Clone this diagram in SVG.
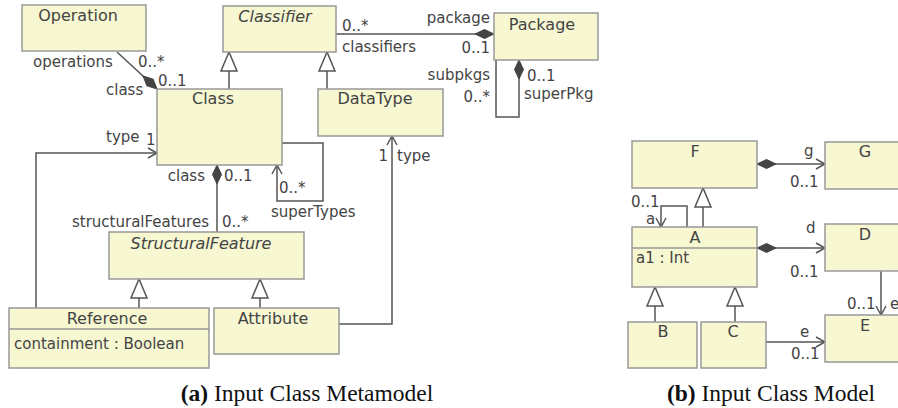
<svg xmlns="http://www.w3.org/2000/svg" width="898" height="408" viewBox="0 0 898 408">
<style>
.box{fill:#f7f7d2;stroke:#999;stroke-width:1.5}
.div{stroke:#999;stroke-width:1.5}
.n{font-family:"DejaVu Sans",sans-serif;font-size:16px;fill:#444;text-anchor:middle}
.it{font-style:italic}
.l{font-family:"DejaVu Sans",sans-serif;font-size:15px;fill:#444}
.r{text-anchor:end}
.c{fill:none;stroke:#555;stroke-width:1.5}
.cap{font-family:"Liberation Serif",serif;font-size:23.5px;fill:#111;text-anchor:middle}
</style>
<defs>
<marker id="open" markerUnits="userSpaceOnUse" markerWidth="12" markerHeight="12" viewBox="-11 -6 12 12" refX="0" refY="0" orient="auto" overflow="visible">
<path d="M-9,-5 L0,0 L-9,5" fill="none" stroke="#555" stroke-width="1.5"/>
</marker>
<marker id="dia" markerUnits="userSpaceOnUse" markerWidth="20" markerHeight="12" viewBox="-19 -6 20 12" refX="0" refY="0" orient="auto-start-reverse" overflow="visible">
<path d="M0,0 L-9.5,-4.5 L-19,0 L-9.5,4.5 Z" fill="#444" stroke="#444" stroke-width="1"/>
</marker>
<marker id="tri" markerUnits="userSpaceOnUse" markerWidth="22" markerHeight="18" viewBox="-21 -9 22 18" refX="0" refY="0" orient="auto" overflow="visible">
<path d="M0,0 L-19,-8 L-19,8 Z" fill="#fff" stroke="#555" stroke-width="1.5"/>
</marker>
</defs>
<rect width="898" height="408" fill="#fff"/>

<g id="connectors">
<path class="c" d="M117,52 L157,89" marker-end="url(#dia)"/>
<path class="c" d="M229,89 L229,52" marker-end="url(#tri)"/>
<path class="c" d="M327,89 L327,52" marker-end="url(#tri)"/>
<path class="c" d="M336,34 L494,34" marker-end="url(#dia)"/>
<path class="c" d="M496,60 L496,117 L519,117 L519,60" marker-end="url(#dia)"/>
<path class="c" d="M282,143 L323,143 L323,201 L277,201 L277,165" marker-end="url(#open)"/>
<path class="c" d="M217,232 L217,165" marker-end="url(#dia)"/>
<path class="c" d="M36,308 L36,153 L157,153" marker-end="url(#open)"/>
<path class="c" d="M339,324 L392,324 L392,136" marker-end="url(#open)"/>
<path class="c" d="M139,308 L139,279" marker-end="url(#tri)"/>
<path class="c" d="M260,308 L260,279" marker-end="url(#tri)"/>
<path class="c" d="M757,164 L825,164" marker-start="url(#dia)" marker-end="url(#open)"/>
<path class="c" d="M687,227 L687,206 L661,206 L661,227" marker-end="url(#open)"/>
<path class="c" d="M703,227 L703,188" marker-end="url(#tri)"/>
<path class="c" d="M757,248 L825,248" marker-start="url(#dia)" marker-end="url(#open)"/>
<path class="c" d="M881,271 L881,315" marker-end="url(#open)"/>
<path class="c" d="M766,342 L825,342" marker-end="url(#open)"/>
<path class="c" d="M655,322 L655,287" marker-end="url(#tri)"/>
<path class="c" d="M735,322 L735,287" marker-end="url(#tri)"/>
</g>

<g id="labels">
<text class="l" x="33" y="67">operations</text>
<text class="l" x="138" y="67">0..*</text>
<text class="l" x="106" y="95">class</text>
<text class="l" x="158" y="86">0..1</text>
<text class="l" x="342" y="31">0..*</text>
<text class="l" x="342" y="52">classifiers</text>
<text class="l r" x="490" y="23">package</text>
<text class="l r" x="490" y="53">0..1</text>
<text class="l r" x="490" y="80">subpkgs</text>
<text class="l r" x="490" y="102">0..*</text>
<text class="l" x="527" y="81">0..1</text>
<text class="l" x="524" y="99">superPkg</text>
<text class="l" x="279" y="193">0..*</text>
<text class="l" x="271" y="217">superTypes</text>
<text class="l r" x="205" y="181">class</text>
<text class="l" x="224" y="181">0..1</text>
<text class="l r" x="209" y="227">structuralFeatures</text>
<text class="l" x="222" y="227">0..*</text>
<text class="l" x="106" y="142">type</text>
<text class="l" x="146" y="145">1</text>
<text class="l r" x="388" y="161">1</text>
<text class="l" x="397" y="161">type</text>
<text class="l" x="804" y="156">g</text>
<text class="l" x="790" y="187">0..1</text>
<text class="l" x="631" y="207">0..1</text>
<text class="l" x="646" y="224">a</text>
<text class="l" x="806" y="233">d</text>
<text class="l" x="790" y="277">0..1</text>
<text class="l" x="847" y="309">0..1</text>
<text class="l" x="890" y="309">e</text>
<text class="l" x="800" y="337">e</text>
<text class="l" x="791" y="359">0..1</text>
</g>

<g id="Operation"><rect class="box" x="22" y="5" width="124" height="46"/><text class="n" x="78" y="21">Operation</text></g>
<g id="Classifier"><rect class="box" x="223" y="6" width="113" height="46"/><text class="n it" x="275" y="22">Classifier</text></g>
<g id="Package"><rect class="box" x="494" y="13" width="104" height="47"/><text class="n" x="542" y="30">Package</text></g>
<g id="Class"><rect class="box" x="157" y="89" width="125" height="76"/><text class="n" x="213" y="104">Class</text></g>
<g id="DataType"><rect class="box" x="318" y="89" width="125" height="47"/><text class="n" x="375" y="104">DataType</text></g>
<g id="StructuralFeature"><rect class="box" x="109" y="232" width="195" height="47"/><text class="n it" x="201" y="249">StructuralFeature</text></g>
<g id="Reference"><rect class="box" x="9" y="308" width="200" height="60"/><line class="div" x1="9" y1="329" x2="209" y2="329"/><text class="n" x="107" y="324">Reference</text><text class="l" x="14" y="349">containment : Boolean</text></g>
<g id="Attribute"><rect class="box" x="214" y="308" width="125" height="46"/><text class="n" x="273" y="324">Attribute</text></g>

<g id="F"><rect class="box" x="632" y="141" width="125" height="47"/><text class="n" x="695" y="157">F</text></g>
<g id="G"><rect class="box" x="825" y="142" width="90" height="47"/><text class="n" x="865" y="157">G</text></g>
<g id="A"><rect class="box" x="632" y="227" width="125" height="60"/><line class="div" x1="632" y1="248" x2="757" y2="248"/><text class="n" x="695" y="243">A</text><text class="l" x="636" y="263">a1 : Int</text></g>
<g id="D"><rect class="box" x="825" y="224" width="90" height="47"/><text class="n" x="865" y="240">D</text></g>
<g id="B"><rect class="box" x="628" y="322" width="69" height="46"/><text class="n" x="663" y="337">B</text></g>
<g id="C"><rect class="box" x="701" y="322" width="65" height="46"/><text class="n" x="733" y="337">C</text></g>
<g id="E"><rect class="box" x="825" y="315" width="90" height="47"/><text class="n" x="865" y="331">E</text></g>

<g id="captions">
<text class="cap" x="307" y="401"><tspan font-weight="bold">(a)</tspan> Input Class Metamodel</text>
<text class="cap" x="771" y="401"><tspan font-weight="bold">(b)</tspan> Input Class Model</text>
</g>
</svg>
